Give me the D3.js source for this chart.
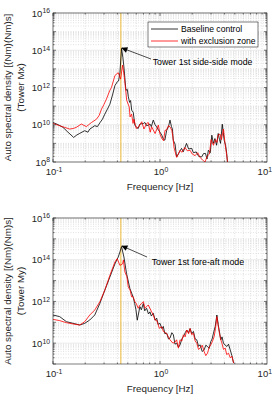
<!DOCTYPE html>
<html lang="en">
<head>
<meta charset="utf-8">
<title>Tower load spectra</title>
<script src="https://cdnjs.cloudflare.com/ajax/libs/d3/7.8.5/d3.min.js"></script>
<style>
  body { margin: 0; background: #fff; }
  svg { display: block; font-family: "Liberation Sans", Arial, Helvetica, sans-serif; }
</style>
</head>
<body>
<div id="chart"></div>
<script>
// [frequency Hz, log10 of auto spectral density]
const mxBaseline = [[0.1,10.12],[0.112,10.0],[0.124,9.86],[0.138,9.6],[0.156,9.32],[0.167,9.45],[0.178,9.54],[0.198,9.68],[0.212,9.6],[0.221,9.77],[0.246,9.95],[0.26,9.9],[0.274,10.1],[0.29,10.3],[0.305,10.57],[0.32,10.8],[0.34,11.1],[0.36,11.6],[0.379,12.1],[0.398,12.3],[0.41,12.35],[0.422,12.8],[0.437,14.1],[0.45,13.6],[0.46,13.1],[0.48,11.85],[0.495,11.9],[0.506,11.5],[0.52,11.2],[0.531,11.3],[0.544,10.78],[0.562,10.67],[0.582,9.98],[0.604,9.86],[0.626,9.8],[0.649,10.04],[0.7,10.07],[0.723,10.12],[0.75,9.95],[0.78,9.98],[0.806,10.04],[0.83,9.9],[0.865,10.25],[0.9,10.0],[0.93,9.89],[0.97,9.7],[1.0,9.6],[1.04,9.44],[1.074,9.23],[1.11,9.17],[1.155,9.7],[1.2,9.9],[1.24,10.25],[1.28,9.9],[1.306,9.77],[1.33,9.17],[1.382,8.96],[1.43,8.27],[1.486,8.43],[1.54,8.6],[1.59,8.73],[1.65,8.55],[1.77,9.0],[1.85,8.7],[1.98,8.73],[2.05,8.5],[2.18,8.54],[2.3,8.3],[2.45,8.27],[2.55,8.45],[2.66,8.46],[2.75,8.16],[2.83,8.63],[2.95,8.5],[3.05,9.44],[3.15,9.0],[3.26,9.26],[3.38,8.9],[3.5,9.53],[3.6,9.2],[3.68,9.0],[3.82,10.03],[3.98,9.17],[4.1,8.9],[4.2,8.46],[4.27,8.0],[4.35,7.6]];
const mxExclusion = [[0.1,10.07],[0.112,9.97],[0.124,9.89],[0.143,9.77],[0.155,9.8],[0.165,9.86],[0.184,10.04],[0.205,9.9],[0.215,10.0],[0.229,10.12],[0.255,10.3],[0.27,10.5],[0.284,10.84],[0.3,11.1],[0.316,11.38],[0.34,11.85],[0.352,12.0],[0.379,12.64],[0.407,12.8],[0.428,12.45],[0.447,13.2],[0.463,12.6],[0.48,11.76],[0.488,11.32],[0.516,10.95],[0.525,10.42],[0.543,10.57],[0.56,10.07],[0.57,10.3],[0.6,9.8],[0.625,9.86],[0.675,10.16],[0.708,9.77],[0.75,10.07],[0.777,10.12],[0.81,9.6],[0.835,9.89],[0.9,9.53],[0.965,9.98],[1.0,9.5],[1.04,9.26],[1.08,9.14],[1.114,9.7],[1.15,9.71],[1.197,9.95],[1.24,9.89],[1.29,9.7],[1.32,9.35],[1.353,8.78],[1.41,8.37],[1.433,8.25],[1.54,8.63],[1.6,8.52],[1.71,8.78],[1.8,8.6],[1.91,8.63],[2.0,8.43],[2.13,8.34],[2.25,8.5],[2.37,8.25],[2.5,8.1],[2.64,8.0],[2.75,8.3],[2.9,8.43],[3.0,9.2],[3.16,8.9],[3.3,9.2],[3.4,9.05],[3.5,9.45],[3.64,9.5],[3.75,9.2],[3.92,9.77],[4.05,9.0],[4.15,8.6],[4.3,7.9],[4.4,7.5]];
const myBaseline = [[0.1,11.35],[0.1155,11.27],[0.1334,11.03],[0.154,10.95],[0.178,10.87],[0.198,10.95],[0.2207,11.11],[0.2457,11.35],[0.2738,11.9],[0.305,12.54],[0.34,13.17],[0.379,13.8],[0.407,14.13],[0.422,14.37],[0.437,14.63],[0.46,14.13],[0.487,13.33],[0.523,12.62],[0.562,12.2],[0.58,11.9],[0.596,11.6],[0.613,11.1],[0.649,11.75],[0.67,11.6],[0.698,11.9],[0.72,11.55],[0.75,11.67],[0.78,11.4],[0.806,11.5],[0.83,11.3],[0.866,11.43],[0.9,11.1],[0.931,11.2],[0.96,10.9],[1.0,10.95],[1.04,10.7],[1.074,10.8],[1.11,10.45],[1.155,10.48],[1.2,10.2],[1.24,10.24],[1.29,10.5],[1.334,10.4],[1.38,9.95],[1.433,10.0],[1.49,9.8],[1.54,9.92],[1.6,10.2],[1.655,10.32],[1.72,10.5],[1.778,10.63],[1.85,10.5],[1.911,10.7],[1.98,10.45],[2.054,10.56],[2.13,10.2],[2.207,10.16],[2.29,9.85],[2.371,9.92],[2.48,9.6],[2.585,9.68],[2.68,9.9],[2.78,9.84],[2.88,9.75],[2.985,10.08],[3.07,10.2],[3.162,10.48],[3.28,10.8],[3.4,11.35],[3.5,10.9],[3.57,10.63],[3.7,10.16],[3.8,10.3],[3.92,10.0],[4.07,9.9],[4.22,9.84],[4.37,9.95],[4.53,9.68],[4.7,9.4],[4.87,9.05]];
const myExclusion = [[0.1,11.14],[0.1155,11.08],[0.1334,10.98],[0.154,10.92],[0.178,10.87],[0.198,11.03],[0.2207,11.35],[0.2457,11.59],[0.2738,11.98],[0.305,12.54],[0.34,13.25],[0.379,13.89],[0.398,14.05],[0.422,13.73],[0.447,13.8],[0.455,13.99],[0.47,13.41],[0.49,13.19],[0.505,12.7],[0.525,12.55],[0.543,12.22],[0.56,12.23],[0.583,11.98],[0.6,11.9],[0.626,11.67],[0.65,11.83],[0.673,11.9],[0.7,11.99],[0.723,11.67],[0.75,11.75],[0.777,11.83],[0.835,11.5],[0.866,11.35],[0.898,11.11],[0.93,11.1],[0.986,10.71],[1.04,10.79],[1.074,10.56],[1.15,10.47],[1.24,10.16],[1.32,10.0],[1.38,10.05],[1.43,10.16],[1.486,9.76],[1.54,10.16],[1.6,10.1],[1.655,10.4],[1.72,10.3],[1.778,10.63],[1.85,10.45],[1.911,10.7],[1.98,10.4],[2.054,10.48],[2.13,10.1],[2.207,10.0],[2.29,9.7],[2.371,9.76],[2.48,9.9],[2.585,9.6],[2.68,9.4],[2.78,9.52],[2.88,9.8],[2.985,9.92],[3.1,10.1],[3.21,10.32],[3.3,10.7],[3.4,11.27],[3.48,10.9],[3.57,10.56],[3.68,10.2],[3.79,10.0],[3.92,9.7],[4.07,9.76],[4.2,9.45],[4.37,9.52],[4.53,9.3],[4.7,9.37],[4.87,9.05]];

const seriesNames = ['Baseline control', 'with exclusion zone'];
const seriesColors = ['#000000', '#ff0000'];
const xTicks = [0.1, 1, 10];
const modeFreq = 0.43;

const panels = [
  { top: 13, bottom: 162, yExp: [8, 16], yTicks: [8, 10, 12, 14, 16],
    series: [mxBaseline, mxExclusion], label: '(Tower Mx)',
    note: 'Tower 1st side-side mode', head: [0.441, 14.12], tail: [0.824, 13.53], text: [0.855, 13.2], legend: true },
  { top: 218, bottom: 364, yExp: [9, 16], yTicks: [10, 12, 14, 16],
    series: [myBaseline, myExclusion], label: '(Tower My)',
    note: 'Tower 1st fore-aft mode', head: [0.441, 14.66], tail: [0.756, 14.13], text: [0.836, 13.75], legend: false }
];

const W = 273, H = 397;
const left = 53, right = 267;
const ink = '#262626';

const svg = d3.select('#chart').append('svg').attr('width', W).attr('height', H);

svg.append('defs').append('marker')
  .attr('id', 'arrow').attr('viewBox', '0 0 10 10')
  .attr('refX', 9).attr('refY', 5)
  .attr('markerWidth', 7).attr('markerHeight', 6)
  .attr('markerUnits', 'userSpaceOnUse')
  .attr('orient', 'auto')
  .append('path').attr('d', 'M0,0L10,5L0,10z').attr('fill', '#000');

// 1..9 x 10^k for each decade
function minors(lo, hi) {
  const out = [];
  for (let k = lo; k < hi; k++) for (let m = 1; m < 10; m++) out.push(m * Math.pow(10, k));
  return out;
}

function supLabel(sel, exp) {
  sel.append('tspan').text('10');
  sel.append('tspan').attr('dy', '-0.45em').attr('font-size', '0.72em').text(exp);
}

panels.forEach((p, pi) => {
  const x = d3.scaleLog().domain([0.1, 10]).range([left, right]);
  const y = d3.scaleLog().domain([Math.pow(10, p.yExp[0]), Math.pow(10, p.yExp[1])]).range([p.bottom, p.top]);
  const g = svg.append('g');
  const ph = p.bottom - p.top;

  // grid
  const xMinor = minors(-1, 1).filter(v => !xTicks.includes(v));
  const yMinor = minors(p.yExp[0], p.yExp[1]).filter(v => !p.yTicks.map(e => Math.pow(10, e)).includes(v) && v > y.domain()[0]);
  g.selectAll('.xminor').data(xMinor).enter().append('line')
    .attr('x1', d => x(d)).attr('x2', d => x(d)).attr('y1', p.top).attr('y2', p.bottom)
    .attr('stroke', '#cfcfcf').attr('stroke-width', 0.6).attr('stroke-dasharray', '1,1.5');
  g.selectAll('.yminor').data(yMinor).enter().append('line')
    .attr('x1', left).attr('x2', right).attr('y1', d => y(d)).attr('y2', d => y(d))
    .attr('stroke', '#cfcfcf').attr('stroke-width', 0.6).attr('stroke-dasharray', '1,1.5');
  g.selectAll('.xmajor').data(xTicks).enter().append('line')
    .attr('x1', d => x(d)).attr('x2', d => x(d)).attr('y1', p.top).attr('y2', p.bottom)
    .attr('stroke', '#dedede').attr('stroke-width', 0.6);
  g.selectAll('.ymajor').data(p.yTicks).enter().append('line')
    .attr('x1', left).attr('x2', right).attr('y1', d => y(Math.pow(10, d))).attr('y2', d => y(Math.pow(10, d)))
    .attr('stroke', '#dedede').attr('stroke-width', 0.6);

  // mode frequency marker
  g.append('line')
    .attr('x1', x(modeFreq)).attr('x2', x(modeFreq)).attr('y1', p.top).attr('y2', p.bottom)
    .attr('stroke', '#EDB120').attr('stroke-width', 1.5).attr('opacity', 0.6);

  // curves
  const clipId = 'clip' + pi;
  svg.select('defs').append('clipPath').attr('id', clipId)
    .append('rect').attr('x', left).attr('y', p.top).attr('width', right - left).attr('height', ph);
  const line = d3.line().x(d => x(d[0])).y(d => y(Math.pow(10, d[1])));
  p.series.forEach((s, si) => {
    g.append('path').datum(s)
      .attr('clip-path', 'url(#' + clipId + ')')
      .attr('fill', 'none').attr('stroke', seriesColors[si]).attr('stroke-width', 0.8)
      .attr('stroke-linejoin', 'round')
      .attr('d', line);
  });

  // axes box and ticks
  g.append('rect').attr('x', left).attr('y', p.top).attr('width', right - left).attr('height', ph)
    .attr('fill', 'none').attr('stroke', ink).attr('stroke-width', 0.6);
  const xAll = minors(-1, 1);
  const yAll = minors(p.yExp[0], p.yExp[1]).filter(v => v >= y.domain()[0]).concat([y.domain()[1]]);
  g.selectAll('.xt').data(xAll).enter().append('path')
    .attr('d', d => {
      const l = xTicks.includes(d) ? 3 : 1.6;
      return `M${x(d)},${p.bottom}v${-l}M${x(d)},${p.top}v${l}`;
    })
    .attr('stroke', ink).attr('stroke-width', 0.6);
  g.selectAll('.yt').data(yAll).enter().append('path')
    .attr('d', d => {
      const l = Number.isInteger(Math.round(Math.log10(d) * 1000) / 1000) ? 3 : 1.6;
      return `M${left},${y(d)}h${l}M${right},${y(d)}h${-l}`;
    })
    .attr('stroke', ink).attr('stroke-width', 0.6);

  // tick labels (last one pulled in so it stays inside the page)
  g.selectAll('.xl').data(xTicks).enter().append('text')
    .attr('x', (d, i) => i === xTicks.length - 1 ? W - 1 : x(d) + 1).attr('y', p.bottom + 13)
    .attr('text-anchor', (d, i) => i === xTicks.length - 1 ? 'end' : 'middle')
    .attr('font-size', 9.5).attr('fill', ink)
    .each(function (d) { supLabel(d3.select(this), Math.round(Math.log10(d))); });
  g.selectAll('.yl').data(p.yTicks).enter().append('text')
    .attr('x', left - 3).attr('y', d => y(Math.pow(10, d)) + 3.5)
    .attr('text-anchor', 'end').attr('font-size', 9.5).attr('fill', ink)
    .each(function (d) { supLabel(d3.select(this), d); });

  // axis titles
  g.append('text').attr('x', (left + right) / 2).attr('y', p.bottom + 28)
    .attr('text-anchor', 'middle').attr('font-size', 9.8).attr('fill', ink)
    .text('Frequency [Hz]');
  const cy = (p.top + p.bottom) / 2;
  g.append('text').attr('transform', `translate(10.5,${cy}) rotate(-90)`)
    .attr('text-anchor', 'middle').attr('font-size', 9.8).attr('fill', ink)
    .text('Auto spectral density [(Nm)(Nm)s]');
  g.append('text').attr('transform', `translate(23.5,${cy}) rotate(-90)`)
    .attr('text-anchor', 'middle').attr('font-size', 9.8).attr('fill', ink)
    .text(p.label);

  // annotation
  g.append('line')
    .attr('x1', x(p.tail[0])).attr('y1', y(Math.pow(10, p.tail[1])))
    .attr('x2', x(p.head[0])).attr('y2', y(Math.pow(10, p.head[1])))
    .attr('stroke', '#000').attr('stroke-width', 0.7).attr('marker-end', 'url(#arrow)');
  g.append('text').attr('x', x(p.text[0])).attr('y', y(Math.pow(10, p.text[1])))
    .attr('font-size', 8.8).attr('fill', '#000').text(p.note);

  // legend
  if (p.legend) {
    const lg = g.append('g').attr('transform', 'translate(148,22)');
    lg.append('rect').attr('width', 110).attr('height', 25)
      .attr('fill', '#fff').attr('stroke', ink).attr('stroke-width', 0.6);
    seriesNames.forEach((n, i) => {
      const yy = 7 + i * 12;
      lg.append('line').attr('x1', 3).attr('x2', 30).attr('y1', yy).attr('y2', yy)
        .attr('stroke', seriesColors[i]).attr('stroke-width', 0.8);
      lg.append('text').attr('x', 33).attr('y', yy + 3).attr('font-size', 8.6).attr('fill', '#000').text(n);
    });
  }
});
</script>
</body>
</html>
